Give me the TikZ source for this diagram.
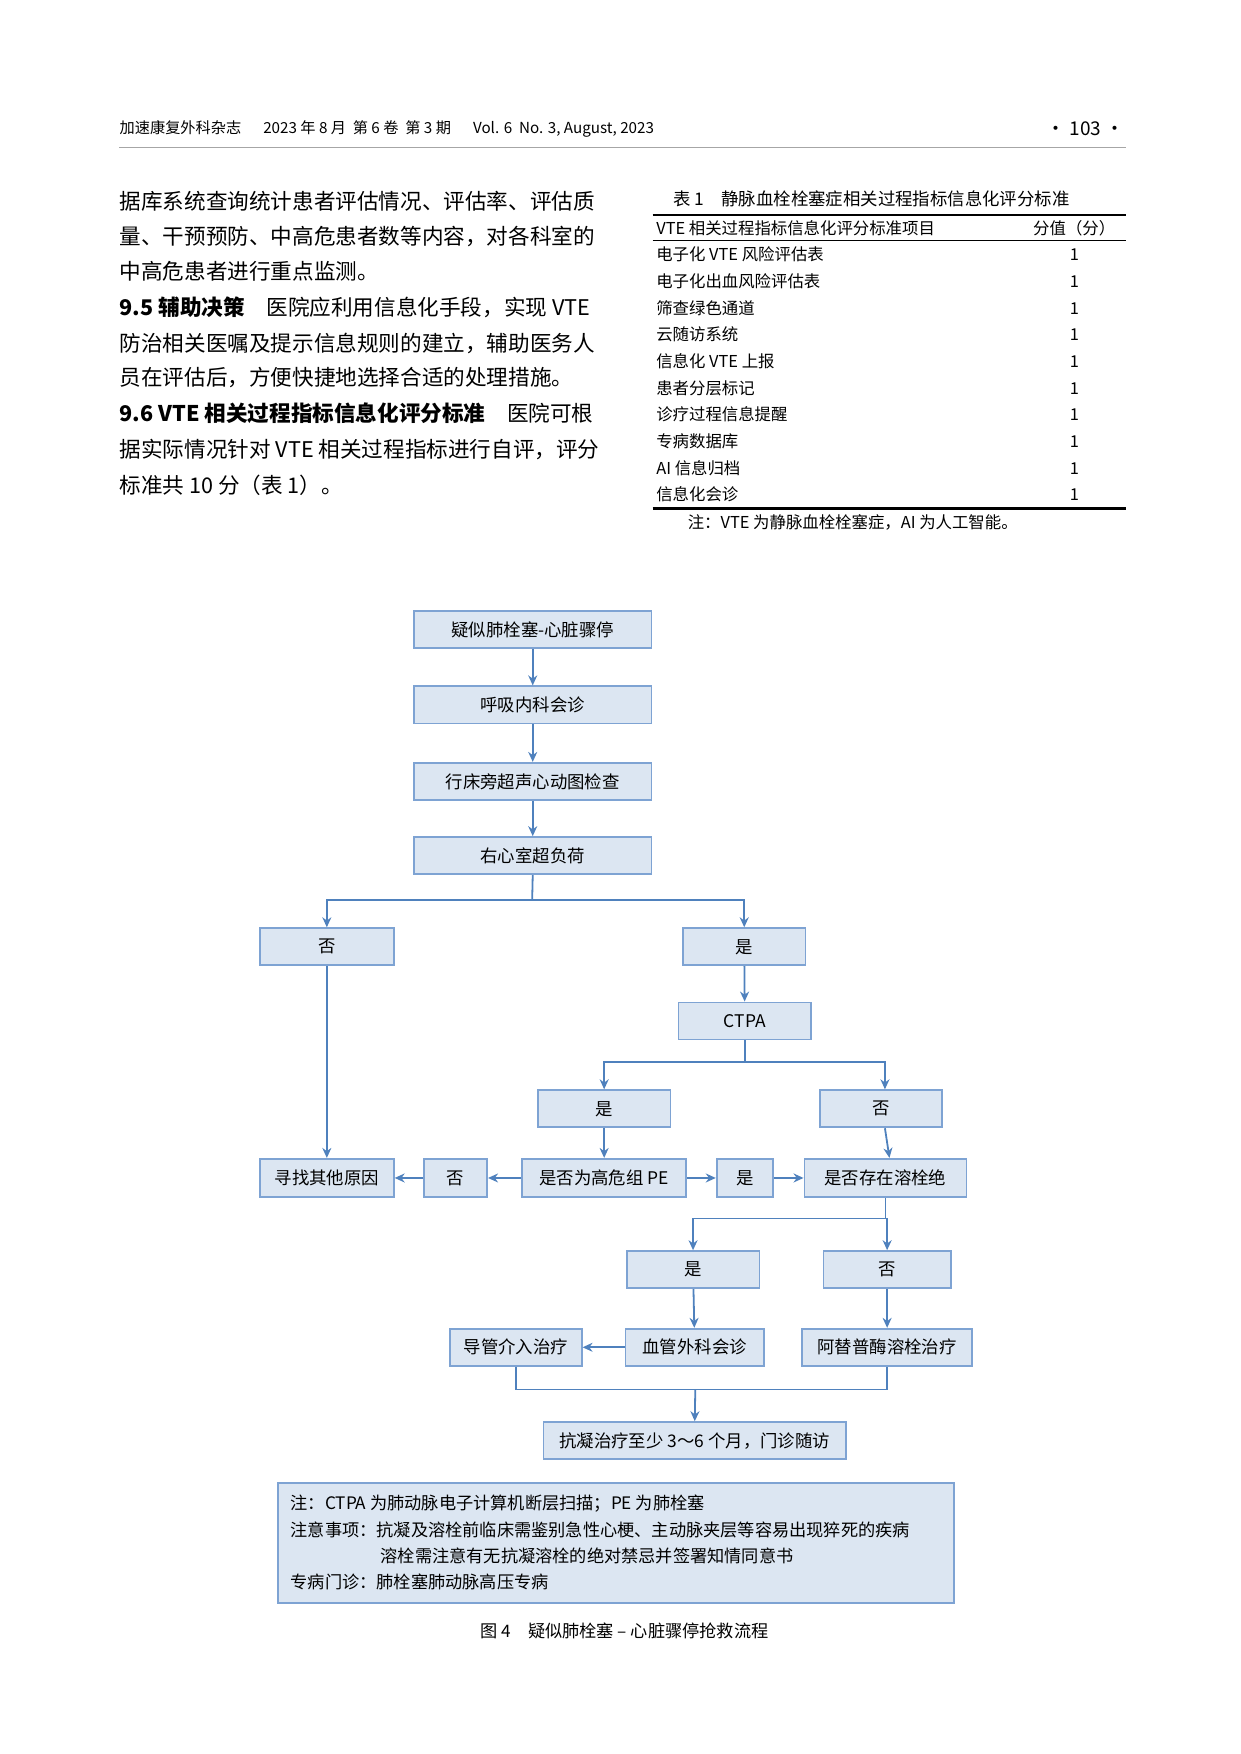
\documentclass[tikz,border=0pt]{standalone}
\usepackage{fontspec}
\setmainfont{Noto Sans CJK SC}
\usetikzlibrary{arrows.meta}
\definecolor{bfill}{HTML}{DCE6F2}
\definecolor{bline}{HTML}{7EA3D3}
\definecolor{arr}{HTML}{4F81BD}
\newcommand{\bx}[6]{\node[box,minimum width={(#4-#2)*0.5625pt},minimum height={(#5-#3)*0.5625pt}] (#1) at ({(#2+#4)/2},{(#3+#5)/2}) {#6};}
\tikzset{
  box/.style={draw=bline,fill=bfill,line width=0.9pt,inner sep=0pt,font=\fontsize{8.7}{10}\selectfont},
  ar/.style={draw=arr,line width=0.9pt,-{Stealth[length=5pt,width=4.5pt]}},
  ln/.style={draw=arr,line width=0.9pt},
  body/.style={anchor=base west,inner sep=0pt,font=\fontsize{10.8}{13}\selectfont},
  tb/.style={anchor=base west,inner sep=0pt,font=\fontsize{8.2}{10}\selectfont},
  hd/.style={anchor=base west,inner sep=0pt,font=\fontsize{7.6}{9}\selectfont}
}
\begin{document}
\begin{tikzpicture}[x=0.5625pt,y=-0.5625pt]
\useasboundingbox (0,0) rectangle (1103,1559);
% header
\node[hd] (h1) at (106,119) {加速康复外科杂志\quad\ \ 2023 年 8 月\ \ 第 6 卷\ \ 第 3 期\quad\ \ Vol. 6\ \ No. 3, August, 2023};
\node[hd,anchor=base east,font=\fontsize{9.5}{11}\selectfont] (h2) at (1000,120) {· 103 ·};
\draw[gray!70,line width=0.6pt] (106,131) -- (1001,131);
% body text
\node[body] (t1) at (106,186) {据库系统查询统计患者评估情况、评估率、评估质};
\node[body] (t2) at (106,217) {量、干预预防、中高危患者数等内容，对各科室的};
\node[body] (t3) at (106,248) {中高危患者进行重点监测。};
\node[body] (t4) at (106,280) {\textbf{9.5\ 辅助决策}\quad 医院应利用信息化手段，实现 VTE};
\node[body] (t5) at (106,312) {防治相关医嘱及提示信息规则的建立，辅助医务人};
\node[body] (t6) at (106,343) {员在评估后，方便快捷地选择合适的处理措施。};
\node[body] (t7) at (106,375) {\textbf{9.6\ VTE 相关过程指标信息化评分标准}\quad 医院可根};
\node[body] (t8) at (106,407) {据实际情况针对 VTE 相关过程指标进行自评，评分};
\node[body] (t9) at (106,439) {标准共 10 分（表 1）。};
% table
\node[tb,font=\fontsize{8.7}{10}\selectfont] (tt) at (598,183) {表 1\quad 静脉血栓栓塞症相关过程指标信息化评分标准};
\draw[line width=1.1pt] (580,191) -- (1001,191);
\node[tb] (th1) at (583,208) {VTE 相关过程指标信息化评分标准项目};
\node[tb] (th2) at (918,208) {分值（分）};
\draw[line width=0.5pt] (580,214) -- (1001,214);
\foreach \t [count=\i] in {电子化 VTE 风险评估表,电子化出血风险评估表,筛查绿色通道,云随访系统,信息化 VTE 上报,患者分层标记,诊疗过程信息提醒,专病数据库,AI 信息归档,信息化会诊}{
  \node[tb] (r\i) at (583,{208+23.7*\i}) {\t};
  \node[tb,anchor=base] (v\i) at (955,{208+23.7*\i}) {1};
}
\draw[line width=1.1pt] (580,452) -- (1001,452);
\node[tb] (tn) at (611,470) {注：VTE 为静脉血栓栓塞症，AI 为人工智能。};
% flowchart
\bx{a}{368}{543}{579}{576}{疑似肺栓塞-心脏骤停}
\bx{b}{368}{610}{579}{643}{呼吸内科会诊}
\bx{c}{368}{678}{579}{711}{行床旁超声心动图检查}
\bx{d}{368}{744}{579}{777}{右心室超负荷}
\bx{n1}{231}{825}{350}{858}{否}
\bx{y1}{607}{825}{716}{858}{是}
\bx{ct}{603}{891}{721}{924}{CTPA}
\bx{y2}{478}{969}{596}{1002}{是}
\bx{n2}{729}{969}{837}{1002}{否}
\bx{xz}{231}{1030}{350}{1064}{寻找其他原因}
\bx{n3}{377}{1030}{433}{1064}{否}
\bx{gw}{464}{1030}{610}{1064}{是否为高危组 PE}
\bx{y3}{637}{1030}{687}{1064}{是}
\bx{rs}{715}{1030}{859}{1064}{是否存在溶栓绝}
\bx{y4}{557}{1112}{675}{1145}{是}
\bx{n4}{732}{1112}{845}{1145}{否}
\bx{dg}{400}{1181}{517}{1214}{导管介入治疗}
\bx{xg}{556}{1181}{679}{1214}{血管外科会诊}
\bx{at}{713}{1181}{864}{1214}{阿替普酶溶栓治疗}
\bx{kn}{483}{1264}{752}{1297}{抗凝治疗至少 3～6 个月，门诊随访}
\draw[ar] (a) -- (b);
\draw[ar] (b) -- (c);
\draw[ar] (c) -- (d);
\coordinate (s1) at (473,800);
\draw[ln] (d.south) -- (s1);
\draw[ar] (s1) -| (n1.north);
\draw[ar] (s1) -| (y1.north);
\draw[ar] (y1) -- (ct);
\coordinate (s2) at (662,944);
\draw[ln] (ct.south) -- (s2);
\draw[ar] (s2) -| (y2.north);
\draw[ar] (s2) -| ([xshift=2pt]n2.north);
\draw[ar] (n1) -- (xz);
\draw[ar] (y2) -- (gw);
\draw[ar] ([xshift=2pt]n2.south) -- ([xshift=2pt]rs.north);
\draw[ar] (gw) -- (n3);
\draw[ar] (n3) -- (xz);
\draw[ar] (gw) -- (y3);
\draw[ar] (y3) -- (rs);
\coordinate (s3) at (787,1083);
\draw[ln] (rs.south) -- (s3);
\draw[ar] (s3) -| (y4.north);
\draw[ar] (s3) -| (n4.north);
\draw[ar] (y4) -- (xg);
\draw[ar] (n4) -- (at);
\draw[ar] (xg) -- (dg);
\coordinate (s4) at (618,1235);
\draw[ln] (dg.south) |- (s4) -| (at.south);
\draw[ar] (s4) -- (kn.north);
% note
\node[draw=bline,fill=bfill,line width=0.9pt,minimum width={601*0.5625pt},minimum height={107*0.5625pt},inner sep=0pt] (nb) at (547.5,1371.5) {};
\node[tb,font=\fontsize{8.6}{10}\selectfont] (nl1) at (258,1342) {注：CTPA 为肺动脉电子计算机断层扫描；PE 为肺栓塞};
\node[tb,font=\fontsize{8.6}{10}\selectfont] (nl2) at (258,1366) {注意事项：抗凝及溶栓前临床需鉴别急性心梗、主动脉夹层等容易出现猝死的疾病};
\node[tb,font=\fontsize{8.6}{10}\selectfont] (nl3) at (338,1389) {溶栓需注意有无抗凝溶栓的绝对禁忌并签署知情同意书};
\node[tb,font=\fontsize{8.6}{10}\selectfont] (nl4) at (258,1412) {专病门诊：肺栓塞肺动脉高压专病};
\node[tb,anchor=base,font=\fontsize{8.6}{10}\selectfont] (cap) at (555,1455) {图 4\quad 疑似肺栓塞 – 心脏骤停抢救流程};
\end{tikzpicture}
\end{document}
